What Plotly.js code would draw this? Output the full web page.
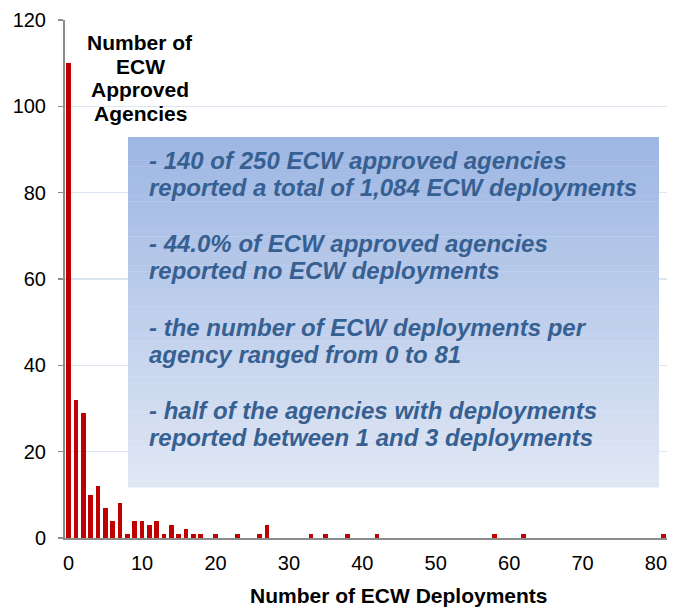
<!DOCTYPE html>
<html>
<head>
<meta charset="utf-8">
<script src="https://cdn.plot.ly/plotly-3.0.1.min.js"></script>
<style>html,body{margin:0;padding:0;background:#fff;}#chart{width:681px;height:608px;}</style>
</head>
<body>
<div id="chart"></div>
<script>
// Data
const deployments = [0,1,2,3,4,5,6,7,8,9,10,11,12,13,14,15,16,17,18,20,23,26,27,33,35,38,42,58,62,81];
const agencies    = [110,32,29,10,12,7,4,8,1,4,4,3,4,1,3,1,2,1,1,1,1,1,3,1,1,1,1,1,1,1];
const xTickVals = [0,10,20,30,40,50,60,70,80];
const yTickVals = [0,20,40,60,80,100,120];

const yLabelLines = ["Number of", "ECW", "Approved", "Agencies"];
const xLabel = "Number of ECW Deployments";
const noteLines = [
  "- 140 of 250 ECW approved agencies",
  "reported a total of 1,084 ECW deployments",
  "- 44.0% of ECW approved agencies",
  "reported no ECW deployments",
  "- the number of ECW deployments per",
  "agency ranged from 0 to 81",
  "- half of the agencies with deployments",
  "reported between 1 and 3 deployments"
];

const FONT = "Liberation Sans, Arial, sans-serif";
const ML = 65, MT = 20, MB = 70, MR = 14, W = 681, H = 608;
const plotH = H - MT - MB;
const py = (pix) => (H - MB - pix) / plotH; // pixel y -> paper y
const pw = W - ML - MR;
const px = (pix) => (pix - ML) / pw;

// gradient box as horizontal strips (covers gridlines, as in the reference)
const shapes = [];
const boxTop = py(137), boxBot = py(487), boxL = px(128), boxR = px(659);
const n = 60;
const c0 = [157,182,227], c1 = [224,231,244];
for (let i = 0; i < n; i++) {
  const t = i / (n - 1);
  const c = c0.map((v, k) => Math.round(v + (c1[k] - v) * t));
  const y1 = boxTop - (boxTop - boxBot) * i / n;
  const y0 = boxTop - (boxTop - boxBot) * (i + 1) / n;
  shapes.push({type:'rect', xref:'paper', yref:'paper', x0:boxL, x1:boxR, y0:y0 - 0.0008, y1:y1,
    fillcolor:`rgb(${c[0]},${c[1]},${c[2]})`, line:{width:0}, layer:'above'});
}

const noteY = [160, 187, 243, 270, 327, 354, 410, 437];
const annotations = noteLines.map((t, i) => ({
  text: t, xref:'paper', yref:'paper', x: px(147), y: py(noteY[i]),
  xanchor:'left', yanchor:'middle', align:'left', showarrow:false,
  font:{family:FONT, size:24, color:'#376092', weight:'bold', style:'italic'}
}));
const yLabY = [42, 66, 90, 114];
yLabelLines.forEach((t, i) => annotations.push({
  text: t, xref:'paper', yref:'paper', x: px(140), y: py(yLabY[i]),
  xanchor:'center', yanchor:'middle', align:'center', showarrow:false,
  font:{family:FONT, size:21, color:'#000', weight:'bold'}
}));
annotations.push({
  text: xLabel, xref:'paper', yref:'paper', x: px(399), y: py(595),
  xanchor:'center', yanchor:'middle', showarrow:false,
  font:{family:FONT, size:21, color:'#000', weight:'bold'}
});

const trace = {
  type:'bar', x: deployments, y: agencies, width: 0.64,
  marker:{color:'#C00000'}, hoverinfo:'x+y'
};

const layout = {
  width:W, height:H,
  margin:{l:ML, r:MR, t:MT, b:MB},
  paper_bgcolor:'#fff', plot_bgcolor:'#fff',
  showlegend:false,
  font:{family:FONT, size:20, color:'#000'},
  xaxis:{range:[-0.5, 81.5], tickvals:xTickVals, showgrid:false, zeroline:false,
    showline:true, linecolor:'#8c8c8c', linewidth:2, ticks:'', ticklabelstandoff:6,
    tickfont:{family:FONT, size:20, color:'#000'}},
  yaxis:{range:[0,120], tickvals:yTickVals, showgrid:true, gridcolor:'#dce6f2', gridwidth:1.5,
    zeroline:false, showline:true, linecolor:'#8c8c8c', linewidth:2, ticks:'outside',
    ticklen:5, tickcolor:'#8c8c8c', tickwidth:1.5, ticklabelstandoff:8,
    tickfont:{family:FONT, size:20, color:'#000'}},
  shapes: shapes,
  annotations: annotations,
  bargap:0
};

Plotly.newPlot('chart', [trace], layout, {displayModeBar:false, staticPlot:true});
</script>
</body>
</html>
